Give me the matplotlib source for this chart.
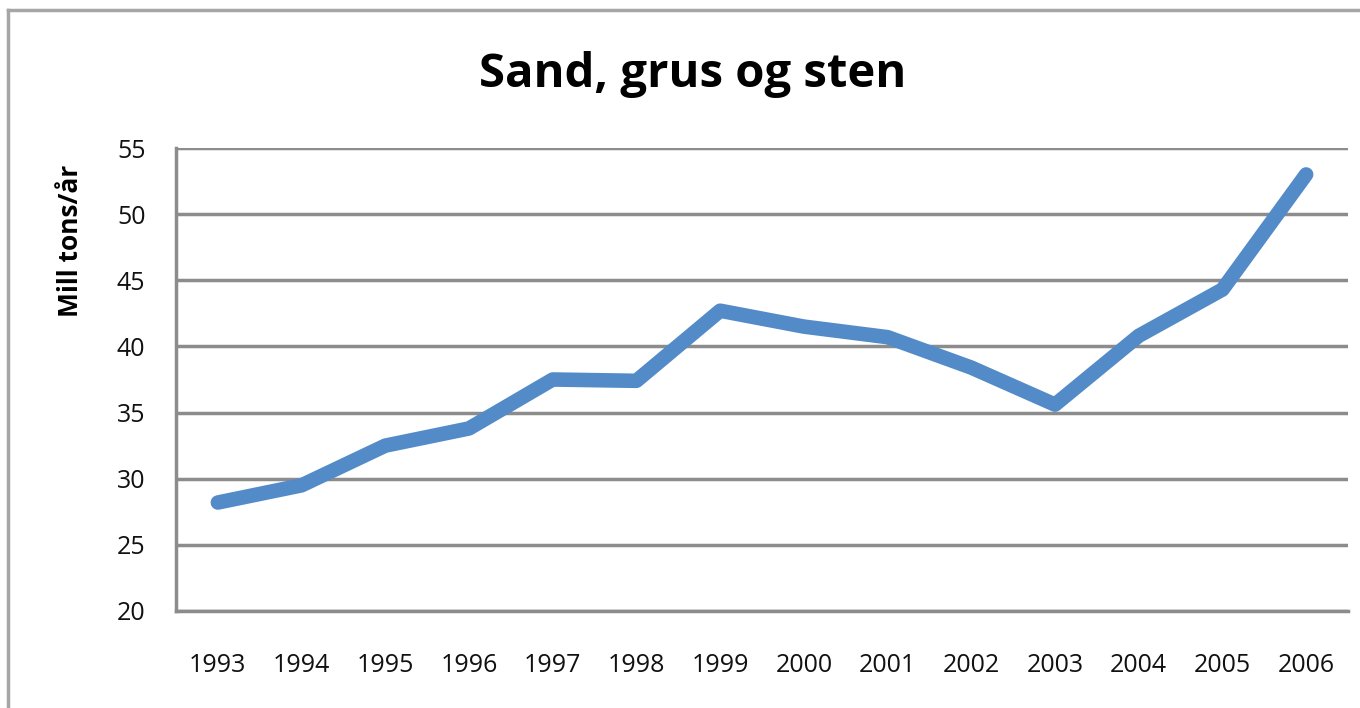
import matplotlib
matplotlib.use("Agg")
import matplotlib.pyplot as plt
from matplotlib.lines import Line2D

plt.rcParams['font.family'] = ['Open Sans', 'DejaVu Sans']

years = ['1993', '1994', '1995', '1996', '1997', '1998', '1999',
         '2000', '2001', '2002', '2003', '2004', '2005', '2006']
tons = [28.2, 29.5, 32.5, 33.8, 37.5, 37.4, 42.7,
        41.5, 40.7, 38.4, 35.6, 40.8, 44.3, 53.0]
yticks = [20, 25, 30, 35, 40, 45, 50, 55]

grid_col = '#8c8c8c'
line_col = '#538bc8'

fig = plt.figure(figsize=(13.6, 7.08), dpi=100)
ax = fig.add_axes([176/1360, 1-611/708, (1348-176)/1360, (611-148)/708])

x = list(range(len(years)))
ax.plot(x, tons, color=line_col, lw=10.5, solid_capstyle='round',
        solid_joinstyle='round', zorder=3)

ax.set_xlim(-0.5, len(years)-0.5)
ax.set_ylim(20, 55)
ax.set_yticks(yticks)
ax.set_xticks(x)
ax.set_xticklabels(years)
ax.tick_params(axis='both', length=0, labelsize=18, colors='#111111')
ax.tick_params(axis='x', pad=30)
ax.tick_params(axis='y', pad=22)
ax.yaxis.grid(True, color=grid_col, lw=2.5)
ax.set_axisbelow(True)

for s in ['top', 'right']:
    ax.spines[s].set_visible(False)
ax.spines['left'].set_color(grid_col)
ax.spines['left'].set_linewidth(2.5)
ax.spines['bottom'].set_color(grid_col)
ax.spines['bottom'].set_linewidth(2.5)

ax.set_ylabel('Mill tons/år', fontsize=19, fontweight='bold')
ax.yaxis.set_label_coords(-0.0785, 0.80)
fig.text(693/1360, 1-75/708, 'Sand, grus og sten', fontsize=34,
         fontweight='bold', ha='center', va='center')

# outer chart border (runs off right and bottom edges)
fig.add_artist(Line2D([8/1360, 1.0], [1-10/708, 1-10/708], color='#a6a6a6', lw=2.5))
fig.add_artist(Line2D([8/1360, 8/1360], [0.0, 1-10/708], color='#a6a6a6', lw=2.5))

fig.savefig('out.png', dpi=100)
